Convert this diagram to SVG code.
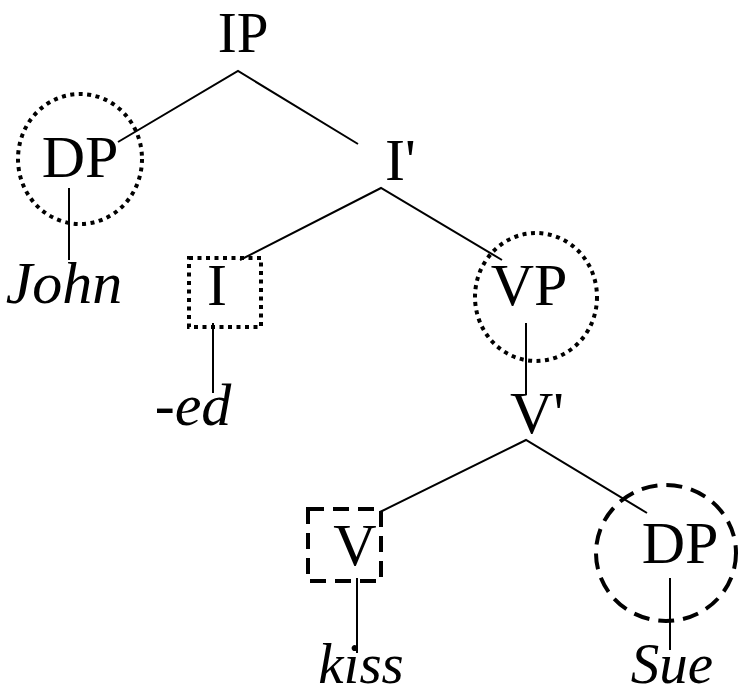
<svg xmlns="http://www.w3.org/2000/svg" width="739" height="696" viewBox="0 0 739 696">
<style>
text{font-family:"Liberation Serif","Times New Roman",serif;font-size:60px;fill:#000}
.it{font-style:italic}
.m{text-anchor:middle}
.s{font-size:57px}
.dot{fill:none;stroke:#000;stroke-width:4;stroke-dasharray:4 4.5}
.dash{fill:none;stroke:#000;stroke-width:4;stroke-dasharray:16 9}
.e{stroke:#000;stroke-width:2;fill:none}
</style>
<rect width="739" height="696" fill="#fff"/>
<g id="connectors">
<polyline class="e" points="118,142 238,71 358,144"/>
<line class="e" x1="69" y1="188" x2="69" y2="260"/>
<polyline class="e" points="240,260 381,188 502,260"/>
<line class="e" x1="213" y1="323" x2="213" y2="393"/>
<line class="e" x1="526" y1="323" x2="526" y2="395"/>
<polyline class="e" points="380,512 526,440 647,513"/>
<line class="e" x1="357" y1="578" x2="357" y2="653"/>
<line class="e" x1="670" y1="578" x2="670" y2="650"/>
</g>
<g id="IP"><text class="m s" x="243" y="52">IP</text></g>
<g id="DP1"><ellipse class="dot" cx="80" cy="159" rx="62" ry="65"/><text class="m" x="80" y="177">DP</text></g>
<g id="John"><text class="m it" x="64" y="303">John</text></g>
<g id="Ibar"><text x="385" y="180">I'</text></g>
<g id="I"><rect class="dot" x="189" y="258" width="72" height="69"/><text class="m" x="217" y="305">I</text></g>
<g id="ed"><text class="m it" x="193" y="425">-ed</text></g>
<g id="VP"><ellipse class="dot" cx="536" cy="297" rx="61" ry="64"/><text class="m" x="529" y="305">VP</text></g>
<g id="Vbar"><text x="510" y="433">V'</text></g>
<g id="V"><rect class="dash" x="308" y="509" width="73" height="72"/><text class="m" x="355" y="565">V</text></g>
<g id="kiss"><text class="m it s" x="361" y="683">kiss</text></g>
<g id="DP2"><ellipse class="dash" cx="666" cy="553" rx="70" ry="68"/><text class="m" x="680" y="563">DP</text></g>
<g id="Sue"><text class="m it s" x="672" y="683">Sue</text></g>
</svg>
